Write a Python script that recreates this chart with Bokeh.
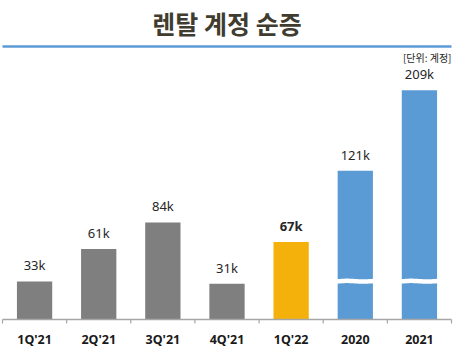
import numpy as np
from bokeh.plotting import figure
from bokeh.models import Range1d, FixedTicker, Span
from bokeh.core.properties import value
from bokeh.embed import file_html
from bokeh.resources import INLINE

# ---- data ----
categories = ["1Q'21", "2Q'21", "3Q'21", "4Q'21", "1Q'22", "2020", "2021"]
values = [33, 61, 84, 31, 67, 121, 209]          # thousands of accounts
kinds = ["q", "q", "q", "q", "cur", "year", "year"]
title_text = "렌탈 계정 순증"
unit_text = "[단위: 계정]"

# ---- styling / scale parameters ----
W, H = 453, 356
FRAME_H = 325
PXK = 1.155                     # pixels per thousand on the quarterly scale
Y0 = -6 / PXK
Y1 = Y0 + FRAME_H / PXK
BREAK_BASE, BREAK_SCALE = 33.3, 0.79   # compressed scale for broken annual bars
BREAK_AT = 32.9
BREAK_THICK = 4.5 / PXK
colors_map = {"q": "#7F7F7F", "cur": "#F4B10B", "year": "#5B9BD5"}
BAR_W = 0.55
N = len(categories)
PXX = 449 / N
X0 = -2 / PXX
X1 = X0 + W / PXX


def fy(fig_y):
    return Y0 + (FRAME_H - fig_y) / PXK


xs = [i + 0.5 for i in range(N)]
disp = [BREAK_BASE + v * BREAK_SCALE if k == "year" else v for v, k in zip(values, kinds)]
cols = [colors_map[k] for k in kinds]
labels = [f"{v}k" for v in values]

p = figure(width=W, height=H, output_backend="svg", toolbar_location=None,
           x_range=Range1d(X0, X1), y_range=Range1d(Y0, Y1),
           min_border=0, min_border_bottom=H - FRAME_H, y_axis_location=None)
p.outline_line_color = None
p.xgrid.grid_line_color = None
p.ygrid.grid_line_color = None
p.background_fill_color = "white"
p.border_fill_color = "white"

p.vbar(x=xs, top=disp, bottom=0, width=BAR_W, fill_color=cols, line_color=None)

# break bands on annual bars
for x, k in zip(xs, kinds):
    if k != "year":
        continue
    t = np.linspace(0, 1, 30)
    bx = x - BAR_W / 2 - 0.02 + t * (BAR_W + 0.04)
    wave = BREAK_AT + (0.5 / PXK) * np.sin(t * 2 * np.pi) + (0.6 / PXK) * t
    px = np.concatenate([bx, bx[::-1]])
    pyv = np.concatenate([wave - BREAK_THICK / 2, (wave + BREAK_THICK / 2)[::-1]])
    p.patch(px, pyv, fill_color="white", line_color=None)

# axis line and boundary ticks
p.segment(x0=[0], x1=[N], y0=[0], y1=[0], line_color="#A6A6A6", line_width=1.5)
bx = list(range(N + 1))
p.segment(x0=bx, x1=bx, y0=[0] * len(bx), y1=[-4 / PXK] * len(bx), line_color="#A6A6A6", line_width=1.2)

# value labels
normal = [i for i, k in enumerate(kinds) if k != "cur"]
bold = [i for i, k in enumerate(kinds) if k == "cur"]
p.text(x=[xs[i] for i in normal], y=[disp[i] for i in normal], text=[labels[i] for i in normal],
       y_offset=-16, text_align="center", text_baseline="middle",
       text_font=value("Noto Sans"), text_font_size="13px", text_color="#262626")
p.text(x=[xs[i] for i in bold], y=[disp[i] for i in bold], text=[labels[i] for i in bold],
       y_offset=-16, text_align="center", text_baseline="middle",
       text_font=value("Noto Sans"), text_font_size="13px", text_font_style="bold", text_color="#262626")

# title, rule, unit
p.text(x=[N / 2], y=[fy(22)], text=[title_text], text_align="center", text_baseline="middle",
       text_font=value("Noto Sans CJK KR"), text_font_size="25px", text_font_style="bold",
       text_color="#403C30")
p.segment(x0=[0], x1=[N], y0=[fy(46)], y1=[fy(46)], line_color="#5B9BD5", line_width=2.5)
p.text(x=[N], y=[fy(57)], text=[unit_text], x_offset=0, text_align="right",
       text_baseline="middle", text_font=value("Noto Sans CJK KR"), text_font_size="10px",
       text_color="#262626")

# category axis
ax = p.xaxis[0]
ax.ticker = FixedTicker(ticks=xs)
ax.major_label_overrides = {x: c for x, c in zip(xs, categories)}
ax.axis_line_color = None
ax.major_tick_line_color = None
ax.minor_tick_line_color = None
ax.major_tick_out = 0
ax.major_tick_in = 0
ax.major_label_standoff = 5
ax.major_label_text_font = "Noto Sans"
ax.major_label_text_font_style = "bold"
ax.major_label_text_font_size = "12.5px"
ax.major_label_text_color = "#1a1a1a"

open("out.html", "w").write(file_html(p, INLINE))
